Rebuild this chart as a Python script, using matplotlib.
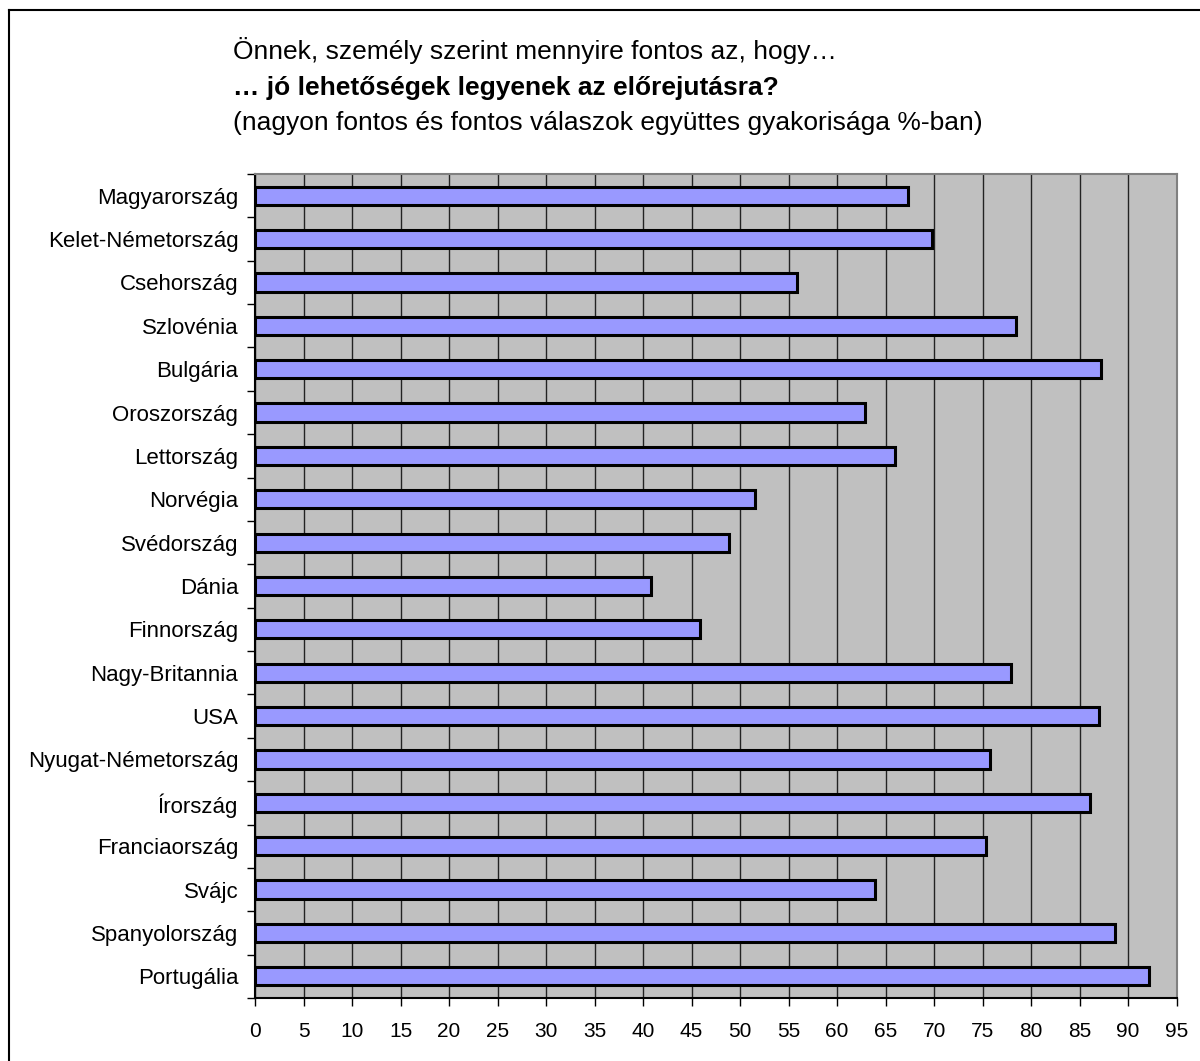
import numpy as np
import matplotlib.pyplot as plt
from matplotlib.lines import Line2D

countries = ['Magyarország', 'Kelet-Németország', 'Csehország', 'Szlovénia',
             'Bulgária', 'Oroszország', 'Lettország', 'Norvégia', 'Svédország',
             'Dánia', 'Finnország', 'Nagy-Britannia', 'USA', 'Nyugat-Németország',
             'Írország', 'Franciaország', 'Svájc', 'Spanyolország', 'Portugália']
values = [67.3, 69.8, 55.9, 78.4, 87.2, 62.9, 66.0, 51.5, 48.9, 40.8, 45.9,
          77.9, 87.0, 75.8, 86.1, 75.4, 63.9, 88.6, 92.2]
xticks = list(range(0, 96, 5))

title1 = 'Önnek, személy szerint mennyire fontos az, hogy…'
title2 = '… jó lehetőségek legyenek az előrejutásra?'
title3 = '(nagyon fontos és fontos válaszok együttes gyakorisága %-ban)'

plt.rcParams['font.family'] = ['Liberation Sans', 'DejaVu Sans']

fig = plt.figure(figsize=(12, 10.61), dpi=100)
ax = fig.add_axes([0.2125, 0.0594, 0.768, 0.7766])

n = len(countries)
ypos = np.arange(n)[::-1]
ax.set_facecolor('#C0C0C0')
ax.barh(ypos, values, height=0.42, color='#9999FF', edgecolor='black',
        linewidth=2.2, zorder=3)

ax.set_xlim(0, 95)
ax.set_ylim(-0.5, n - 0.5)
ax.set_xticks(xticks)
ax.set_xticklabels([str(t) for t in xticks], fontsize=15)
ax.set_yticks(ypos)
ax.set_yticklabels(countries, fontsize=16)
ax.set_yticks(np.arange(n + 1) - 0.5, minor=True)
ax.tick_params(axis='y', which='major', length=0, pad=12)
ax.tick_params(axis='y', which='minor', length=6, width=1, color='black')
ax.tick_params(axis='x', length=6, width=1, pad=11)

ax.grid(axis='x', color='#222222', linewidth=1, zorder=1)
ax.set_axisbelow(True)

ax.spines['left'].set_color('black')
ax.spines['bottom'].set_color('black')
ax.spines['top'].set_color('#808080')
ax.spines['right'].set_color('#808080')
for s in ax.spines.values():
    s.set_linewidth(1.5)

fig.text(0.194, 0.952, title1, fontsize=19, va='center', ha='left')
fig.text(0.194, 0.917, title2, fontsize=19, va='center', ha='left',
         fontweight='bold')
fig.text(0.194, 0.884, title3, fontsize=19, va='center', ha='left')

# outer frame (left and top edges only visible)
fig.add_artist(Line2D([0.0075, 0.0075], [0, 0.9905], color='black', lw=1.5,
                      transform=fig.transFigure))
fig.add_artist(Line2D([0.0075, 1.0], [0.9905, 0.9905], color='black', lw=1.5,
                      transform=fig.transFigure))

fig.savefig('out.png', dpi=100)
